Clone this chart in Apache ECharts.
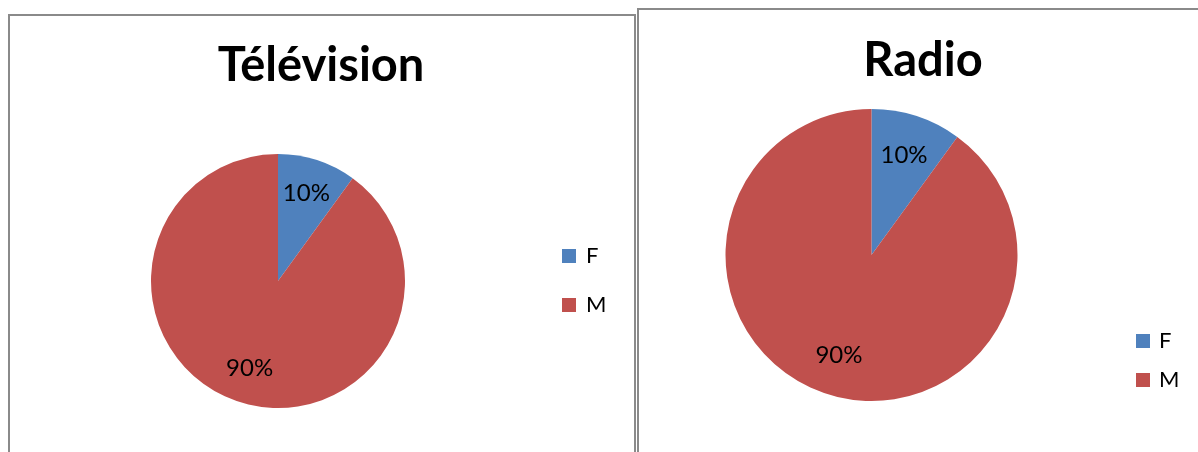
<!DOCTYPE html>
<html>
<head>
<meta charset="utf-8">
<script src="https://cdn.jsdelivr.net/npm/echarts@6/dist/echarts.min.js"></script>
<style>
  html, body { margin: 0; padding: 0; background: #fff; }
  #chart { width: 1198px; height: 452px; }
</style>
</head>
<body>
<div id="chart"></div>
<script>
const categories = ['F', 'M'];
const televisionValues = [10, 90];
const radioValues = [10, 90];
const chartTitles = ['Télévision', 'Radio'];
const colors = ['#4F81BD', '#C0504D'];

const FONT = 'Lato, "Liberation Sans", sans-serif';

function toData(values) {
  return categories.map((c, i) => ({ name: c, value: values[i] }));
}

function pieSeries(values, center, r) {
  return [
    {
      type: 'pie',
      center: center,
      radius: [0, r],
      startAngle: 90,
      clockwise: true,
      label: { show: false },
      labelLine: { show: false },
      itemStyle: { borderWidth: 0 },
      emphasis: { disabled: true },
      data: toData(values)
    },
    {
      type: 'pie',
      center: center,
      radius: [r * 0.4, r],
      startAngle: 90,
      clockwise: true,
      silent: true,
      percentPrecision: 0,
      itemStyle: { color: 'rgba(0,0,0,0)', borderWidth: 0 },
      label: {
        show: true,
        position: 'inside',
        formatter: '{d}%',
        fontFamily: FONT,
        fontSize: 24,
        color: '#000'
      },
      labelLine: { show: false },
      emphasis: { disabled: true },
      data: toData(values)
    }
  ];
}

const chart = echarts.init(document.getElementById('chart'), null, { renderer: 'canvas' });
chart.setOption({
  animation: false,
  color: colors,
  title: [
    { text: chartTitles[0], left: 321, top: 42, textAlign: 'center', padding: 0,
      textStyle: { fontFamily: FONT, fontWeight: 'bold', fontSize: 47, color: '#000' } },
    { text: chartTitles[1], left: 923, top: 37, textAlign: 'center', padding: 0,
      textStyle: { fontFamily: FONT, fontWeight: 'bold', fontSize: 47, color: '#000' } }
  ],
  legend: [
    { data: categories, orient: 'vertical', left: 562, top: 245, icon: 'rect', padding: 0,
      itemWidth: 14, itemHeight: 14, itemGap: 27, selectedMode: false,
      textStyle: { fontFamily: FONT, fontSize: 22, lineHeight: 22, color: '#000', padding: [0, 0, 0, 5] } },
    { data: categories, orient: 'vertical', left: 1136, top: 330, icon: 'rect', padding: 0,
      itemWidth: 14, itemHeight: 14, itemGap: 17, selectedMode: false,
      textStyle: { fontFamily: FONT, fontSize: 22, lineHeight: 22, color: '#000', padding: [0, 0, 0, 4] } }
  ],
  graphic: [
    { type: 'rect', shape: { x: 9, y: 15, width: 626, height: 500 },
      style: { fill: 'none', stroke: '#8a8a8a', lineWidth: 2 }, z: -1 },
    { type: 'rect', shape: { x: 638, y: 9, width: 600, height: 500 },
      style: { fill: 'none', stroke: '#8a8a8a', lineWidth: 2 }, z: -1 }
  ],
  series: [
    ...pieSeries(televisionValues, [278, 281], 127),
    ...pieSeries(radioValues, [871.5, 255], 146)
  ]
});
</script>
</body>
</html>
